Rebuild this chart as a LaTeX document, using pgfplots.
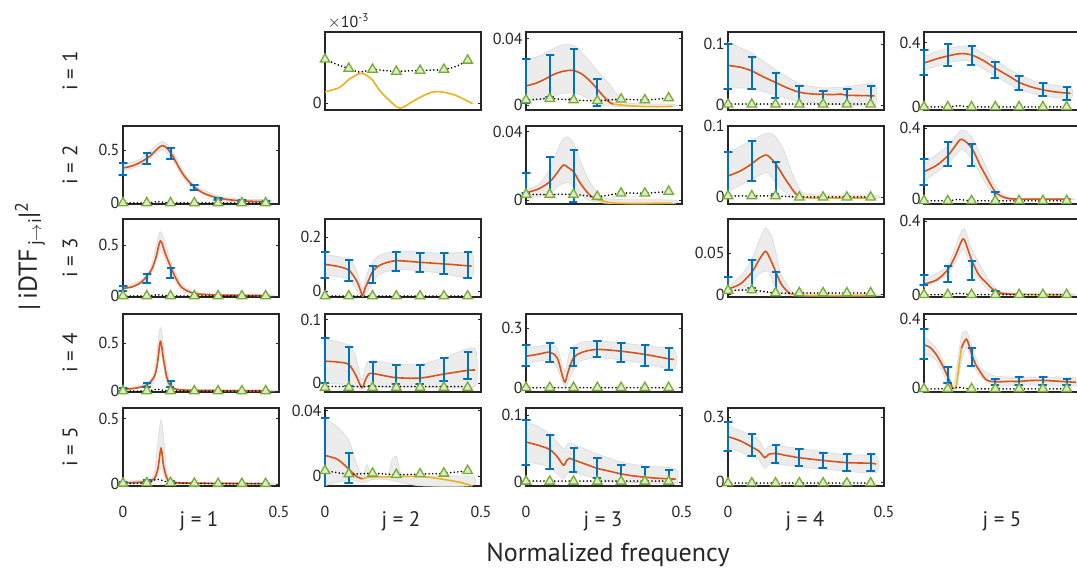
\documentclass[border=0pt]{standalone}
\usepackage{fontspec}
\setmainfont{PT Sans}
\usepackage{pgfplots}
\pgfplotsset{compat=1.18}
\definecolor{morange}{RGB}{217,83,25}
\definecolor{myellow}{RGB}{237,177,32}
\definecolor{mblue}{RGB}{0,114,189}
\definecolor{mgreen}{RGB}{119,172,48}
\definecolor{bandfill}{RGB}{236,236,236}
\definecolor{bandedge}{RGB}{220,220,220}
\definecolor{axcol}{RGB}{38,38,38}
\pgfplotsset{
 panel/.style={anchor=south west, scale only axis, width=156pt, height=78pt,
   xmin=0, xmax=0.5, xtick={0,0.5}, xticklabels={},
   axis line style={line width=1.2pt, axcol},
   tick style={axcol, line width=0.8pt}, major tick length=3pt, tick align=inside,
   ticklabel style={font=\fontsize{16}{18}\selectfont, text=axcol},
   scaled y ticks=false, clip=false},
 bottomrow/.style={xticklabels={\mbox{0},\mbox{0.5}}, xticklabel style={yshift=-17pt}},
 org/.style={draw=morange, line width=1.6pt, smooth, tension=0.5, mark=none},
 yel/.style={draw=myellow, line width=1.6pt, smooth, tension=0.5, mark=none},
 band/.style={fill=bandfill, draw=bandedge, line width=0.7pt, smooth, tension=0.4, mark=none},
 eb/.style={draw=mblue, line width=2pt, sharp plot, mark=none, line join=round},
 tri/.style={only marks, mark=triangle*, mark size=5.5pt,
   mark options={draw=mgreen, fill=mgreen!25!white, line width=1.3pt}},
 dots/.style={draw=black, line width=1.8pt, dash pattern=on 0pt off 3.6pt, line cap=round, smooth, tension=0.5, mark=none},
}
\begin{document}
\begin{tikzpicture}[x=1pt,y=1pt]
% ================= ROW 1 =================
% (1,2)
\begin{axis}[panel, at={(325pt,463pt)}, ymin=-0.175, ymax=1.75, ytick={0}, yticklabels={\mbox{0}}]
\addplot[yel] coordinates {(0,0.275)(0.046,0.38)(0.079,0.59)(0.117,0.73)(0.15,0.58)(0.176,0.3)(0.208,0.05)(0.241,-0.13)(0.284,0.05)(0.327,0.22)(0.36,0.28)(0.414,0.2)(0.473,-0.02)};
\addplot[tri] coordinates {(0,1.075)(0.0762,0.85)(0.1524,0.825)(0.2286,0.775)(0.3048,0.8)(0.381,0.825)(0.4572,1.05)};
\addplot[dots] coordinates {(0,1.075)(0.038,0.95)(0.0762,0.85)(0.11,0.76)(0.1524,0.825)(0.19,0.8)(0.2286,0.775)(0.266,0.79)(0.3048,0.8)(0.343,0.81)(0.381,0.825)(0.42,0.9)(0.4572,1.05)};
\end{axis}
% (1,3)
\begin{axis}[panel, at={(526pt,463pt)}, ymin=-0.003, ymax=0.0439, ytick={0,0.04}, yticklabels={\mbox{0},\mbox{0.04}}]
\addplot[band] coordinates {(0,0.027)(0.05,0.03)(0.1,0.035)(0.13,0.0365)(0.16,0.035)(0.2,0.027)(0.24,0.018)(0.27,0.012)(0.3,0.004)(0.33,0.001)(0.47,0.0005)(0.47,-0.001)(0.3,-0.001)(0.27,-0.0005)(0.24,0.0)(0.2,0.004)(0.16,0.007)(0.12,0.007)(0.08,0.005)(0.04,0.003)(0,0.002)};
\addplot[yel] coordinates {(0.28,0.0005)(0.32,-0.0003)(0.36,-0.0008)(0.4,-0.001)(0.44,-0.001)(0.47,-0.0008)};
\addplot[org] coordinates {(0,0.0115)(0.03,0.013)(0.06,0.0155)(0.09,0.0185)(0.12,0.0203)(0.15,0.0208)(0.18,0.0185)(0.21,0.0135)(0.24,0.007)(0.265,0.002)(0.28,0.0005)};
\addplot[eb] coordinates {(-0.0125,0.0276)(0.0125,0.0276)(0,0.0276)(0,0.001)(-0.0125,0.001)(0.0125,0.001)};
\addplot[eb] coordinates {(0.0637,0.0298)(0.0887,0.0298)(0.0762,0.0298)(0.0762,0.005)(0.0637,0.005)(0.0887,0.005)};
\addplot[eb] coordinates {(0.1399,0.0337)(0.1649,0.0337)(0.1524,0.0337)(0.1524,0.0035)(0.1399,0.0035)(0.1649,0.0035)};
\addplot[eb] coordinates {(0.2161,0.0156)(0.2411,0.0156)(0.2286,0.0156)(0.2286,-0.0004)(0.2161,-0.0004)(0.2411,-0.0004)};
\addplot[tri] coordinates {(0,0.003)(0.0762,0.0038)(0.1524,0.003)(0.2286,0.0025)(0.3048,0.0035)(0.381,0.003)(0.4572,0.0042)};
\addplot[dots] coordinates {(0,0.003)(0.0762,0.0038)(0.1524,0.003)(0.2286,0.0025)(0.3048,0.0035)(0.381,0.003)(0.4572,0.0042)};
\end{axis}
% (1,4)
\begin{axis}[panel, at={(728pt,463pt)}, ymin=-0.0083, ymax=0.12, ytick={0,0.1}, yticklabels={\mbox{0},\mbox{0.1}}]
\addplot[band] coordinates {(0,0.103)(0.0762,0.085)(0.1524,0.058)(0.2286,0.035)(0.3048,0.028)(0.381,0.03)(0.47,0.034)(0.47,0.0)(0.381,0.0)(0.3048,0.002)(0.2286,0.006)(0.1524,0.016)(0.0762,0.027)(0,0.028)};
\addplot[org] coordinates {(0,0.065)(0.04,0.062)(0.0762,0.056)(0.11,0.047)(0.1524,0.037)(0.19,0.028)(0.2286,0.021)(0.27,0.018)(0.3048,0.0175)(0.34,0.017)(0.36,0.018)(0.381,0.016)(0.42,0.0155)(0.47,0.015)};
\addplot[eb] coordinates {(-0.0125,0.1001)(0.0125,0.1001)(0,0.1001)(0,0.0255)(-0.0125,0.0255)(0.0125,0.0255)};
\addplot[eb] coordinates {(0.0637,0.0791)(0.0887,0.0791)(0.0762,0.0791)(0.0762,0.0255)(0.0637,0.0255)(0.0887,0.0255)};
\addplot[eb] coordinates {(0.1399,0.052)(0.1649,0.052)(0.1524,0.052)(0.1524,0.011)(0.1399,0.011)(0.1649,0.011)};
\addplot[eb] coordinates {(0.2161,0.031)(0.2411,0.031)(0.2286,0.031)(0.2286,-0.002)(0.2161,-0.002)(0.2411,-0.002)};
\addplot[eb] coordinates {(0.2923,0.023)(0.3173,0.023)(0.3048,0.023)(0.3048,0)(0.2923,0)(0.3173,0)};
\addplot[eb] coordinates {(0.3685,0.027)(0.3935,0.027)(0.381,0.027)(0.381,-0.002)(0.3685,-0.002)(0.3935,-0.002)};
\addplot[eb] coordinates {(0.4447,0.031)(0.4697,0.031)(0.4572,0.031)(0.4572,-0.002)(0.4447,-0.002)(0.4697,-0.002)};
\addplot[tri] coordinates {(0,0.001)(0.0762,0.001)(0.1524,0.001)(0.2286,0.001)(0.3048,0.001)(0.381,0.001)(0.4572,0.001)};
\addplot[dots] coordinates {(0,0.0015)(0.0762,0.0015)(0.1524,0.0015)(0.2286,0.0015)(0.3048,0.0015)(0.381,0.0015)(0.4572,0.0015)};
\end{axis}
% (1,5)
\begin{axis}[panel, at={(924pt,463pt)}, ymin=-0.019, ymax=0.468, ytick={0,0.4}, yticklabels={\mbox{0},\mbox{0.4}}]
\addplot[band] coordinates {(0,0.32)(0.0762,0.365)(0.125,0.38)(0.1524,0.375)(0.2286,0.29)(0.3048,0.2)(0.381,0.145)(0.47,0.12)(0.47,0.055)(0.381,0.07)(0.3048,0.11)(0.2286,0.195)(0.1524,0.28)(0.125,0.29)(0.0762,0.275)(0,0.23)};
\addplot[org] coordinates {(0,0.274)(0.04,0.3)(0.0762,0.318)(0.11,0.332)(0.125,0.333)(0.1524,0.325)(0.19,0.29)(0.2286,0.242)(0.27,0.195)(0.3048,0.154)(0.34,0.127)(0.381,0.107)(0.42,0.094)(0.4572,0.087)(0.47,0.085)};
\addplot[eb] coordinates {(-0.0125,0.358)(0.0125,0.358)(0,0.358)(0,0.2)(-0.0125,0.2)(0.0125,0.2)};
\addplot[eb] coordinates {(0.0637,0.396)(0.0887,0.396)(0.0762,0.396)(0.0762,0.255)(0.0637,0.255)(0.0887,0.255)};
\addplot[eb] coordinates {(0.1399,0.38)(0.1649,0.38)(0.1524,0.38)(0.1524,0.26)(0.1399,0.26)(0.1649,0.26)};
\addplot[eb] coordinates {(0.2161,0.278)(0.2411,0.278)(0.2286,0.278)(0.2286,0.181)(0.2161,0.181)(0.2411,0.181)};
\addplot[eb] coordinates {(0.2923,0.196)(0.3173,0.196)(0.3048,0.196)(0.3048,0.107)(0.2923,0.107)(0.3173,0.107)};
\addplot[eb] coordinates {(0.3685,0.147)(0.3935,0.147)(0.381,0.147)(0.381,0.068)(0.3685,0.068)(0.3935,0.068)};
\addplot[eb] coordinates {(0.4447,0.122)(0.4697,0.122)(0.4572,0.122)(0.4572,0.046)(0.4447,0.046)(0.4697,0.046)};
\addplot[tri] coordinates {(0,0)(0.0762,0)(0.1524,0)(0.2286,0)(0.3048,0)(0.381,0)(0.4572,0)};
\addplot[dots] coordinates {(0,0)(0.08,0.001)(0.11,0.008)(0.14,0.002)(0.2,0)(0.4572,0)};
\end{axis}
% ================= ROW 2 =================
% (2,1)
\begin{axis}[panel, at={(123pt,369pt)}, ymin=-0.01, ymax=0.726, ytick={0,0.5}, yticklabels={\mbox{0},\mbox{0.5}}]
\addplot[band] coordinates {(0,0.36)(0.06,0.42)(0.125,0.58)(0.16,0.48)(0.2,0.27)(0.229,0.17)(0.3,0.07)(0.38,0.035)(0.47,0.03)(0.47,0.005)(0.38,0.008)(0.3,0.03)(0.229,0.13)(0.2,0.21)(0.16,0.4)(0.125,0.5)(0.06,0.36)(0,0.3)};
\addplot[org] coordinates {(0,0.33)(0.03,0.35)(0.06,0.39)(0.09,0.45)(0.11,0.51)(0.125,0.54)(0.14,0.52)(0.16,0.44)(0.18,0.33)(0.2,0.24)(0.229,0.15)(0.26,0.09)(0.3,0.05)(0.34,0.03)(0.38,0.02)(0.42,0.015)(0.47,0.015)};
\addplot[eb] coordinates {(-0.0125,0.38)(0.0125,0.38)(0,0.38)(0,0.26)(-0.0125,0.26)(0.0125,0.26)};
\addplot[eb] coordinates {(0.0637,0.47)(0.0887,0.47)(0.0762,0.47)(0.0762,0.37)(0.0637,0.37)(0.0887,0.37)};
\addplot[eb] coordinates {(0.1399,0.52)(0.1649,0.52)(0.1524,0.52)(0.1524,0.41)(0.1399,0.41)(0.1649,0.41)};
\addplot[eb] coordinates {(0.2161,0.17)(0.2411,0.17)(0.2286,0.17)(0.2286,0.12)(0.2161,0.12)(0.2411,0.12)};
\addplot[eb] coordinates {(0.2923,0.05)(0.3173,0.05)(0.3048,0.05)(0.3048,0.03)(0.2923,0.03)(0.3173,0.03)};
\addplot[eb] coordinates {(0.3685,0.026)(0.3935,0.026)(0.381,0.026)(0.381,0.014)(0.3685,0.014)(0.3935,0.014)};
\addplot[eb] coordinates {(0.4447,0.02)(0.4697,0.02)(0.4572,0.02)(0.4572,0.01)(0.4447,0.01)(0.4697,0.01)};
\addplot[tri] coordinates {(0,0)(0.0762,0)(0.1524,0)(0.2286,0)(0.3048,0)(0.381,0)(0.4572,0)};
\addplot[dots] coordinates {(0,0)(0.08,0.001)(0.11,0.012)(0.14,0.002)(0.2,0)(0.4572,0)};
\end{axis}
% (2,3)
\begin{axis}[panel, at={(526pt,369pt)}, ymin=-0.0023, ymax=0.0433, ytick={0,0.04}, yticklabels={\mbox{0},\mbox{0.04}}]
\addplot[band] coordinates {(0,0.006)(0.04,0.009)(0.0762,0.018)(0.11,0.033)(0.13,0.037)(0.15,0.034)(0.17,0.025)(0.2,0.012)(0.23,0.004)(0.27,0.0005)(0.47,0.0)(0.47,-0.002)(0.27,-0.002)(0.23,-0.001)(0.2,0.0)(0.17,0.004)(0.14,0.01)(0.11,0.009)(0.0762,0.004)(0.04,0.002)(0,0.002)};
\addplot[yel] coordinates {(0.23,0.0003)(0.27,-0.0015)(0.32,-0.002)(0.38,-0.002)(0.43,-0.0018)(0.47,-0.0018)};
\addplot[org] coordinates {(0,0.0043)(0.04,0.0065)(0.0762,0.0107)(0.1,0.016)(0.12,0.0205)(0.135,0.019)(0.1524,0.0166)(0.17,0.011)(0.19,0.0059)(0.21,0.002)(0.23,0.0003)};
\addplot[eb] coordinates {(-0.0125,0.0156)(0.0125,0.0156)(0,0.0156)(0,0.0039)(-0.0125,0.0039)(0.0125,0.0039)};
\addplot[eb] coordinates {(0.0637,0.025)(0.0887,0.025)(0.0762,0.025)(0.0762,0.003)(0.0637,0.003)(0.0887,0.003)};
\addplot[eb] coordinates {(0.1399,0.029)(0.1649,0.029)(0.1524,0.029)(0.1524,-0.001)(0.1399,-0.001)(0.1649,-0.001)};
\addplot[tri] coordinates {(0,0.0033)(0.0762,0.0033)(0.1524,0.0033)(0.2286,0.002)(0.3048,0.004)(0.381,0.004)(0.4572,0.005)};
\addplot[dots] coordinates {(0,0.0033)(0.0762,0.0033)(0.1524,0.0033)(0.2286,0.002)(0.3048,0.004)(0.381,0.004)(0.4572,0.005)};
\end{axis}
% (2,4)
\begin{axis}[panel, at={(728pt,369pt)}, ymin=-0.0094, ymax=0.1, ytick={0,0.1}, yticklabels={\mbox{0},\mbox{0.1}}]
\addplot[band] coordinates {(0,0.062)(0.0762,0.08)(0.125,0.09)(0.1524,0.085)(0.18,0.065)(0.2,0.04)(0.229,0.012)(0.26,0.004)(0.47,0.003)(0.47,-0.002)(0.26,-0.002)(0.229,-0.001)(0.2,0.0)(0.18,0.008)(0.1524,0.02)(0.125,0.035)(0.0762,0.025)(0,0.008)};
\addplot[yel] coordinates {(0.229,0.001)(0.27,-0.001)(0.35,-0.001)(0.42,-0.001)(0.47,-0.001)};
\addplot[org] coordinates {(0,0.0299)(0.04,0.037)(0.0762,0.047)(0.1,0.055)(0.125,0.059)(0.1524,0.047)(0.18,0.028)(0.2,0.015)(0.215,0.006)(0.229,0.001)};
\addplot[eb] coordinates {(-0.0125,0.063)(0.0125,0.063)(0,0.063)(0,0)(-0.0125,0)(0.0125,0)};
\addplot[eb] coordinates {(0.0637,0.079)(0.0887,0.079)(0.0762,0.079)(0.0762,0.023)(0.0637,0.023)(0.0887,0.023)};
\addplot[eb] coordinates {(0.1399,0.049)(0.1649,0.049)(0.1524,0.049)(0.1524,0.005)(0.1399,0.005)(0.1649,0.005)};
\addplot[tri] coordinates {(0,0.0019)(0.0762,0.0019)(0.1524,0.0019)(0.2286,0)(0.3048,0)(0.381,0)(0.4572,0)};
\addplot[dots] coordinates {(0,0.0019)(0.0762,0.0019)(0.1524,0.0019)(0.2286,0.0005)(0.3048,0.0005)(0.381,0.0005)(0.4572,0.0005)};
\end{axis}
% (2,5)
\begin{axis}[panel, at={(924pt,369pt)}, ymin=-0.028, ymax=0.413, ytick={0,0.4}, yticklabels={\mbox{0},\mbox{0.4}}]
\addplot[band] coordinates {(0,0.2)(0.0762,0.3)(0.12,0.39)(0.1524,0.35)(0.2,0.18)(0.2286,0.07)(0.26,0.02)(0.3,0.005)(0.47,0.003)(0.47,-0.003)(0.3,-0.003)(0.26,0.0)(0.2286,0.015)(0.2,0.08)(0.1524,0.23)(0.12,0.28)(0.0762,0.2)(0,0.1)};
\addplot[org] coordinates {(0,0.155)(0.04,0.19)(0.0762,0.245)(0.1,0.3)(0.12,0.338)(0.1524,0.29)(0.18,0.19)(0.2,0.126)(0.2286,0.04)(0.26,0.008)(0.3,0.0)(0.47,0.0)};
\addplot[eb] coordinates {(-0.0125,0.225)(0.0125,0.225)(0,0.225)(0,0.08)(-0.0125,0.08)(0.0125,0.08)};
\addplot[eb] coordinates {(0.0637,0.32)(0.0887,0.32)(0.0762,0.32)(0.0762,0.187)(0.0637,0.187)(0.0887,0.187)};
\addplot[eb] coordinates {(0.1399,0.31)(0.1649,0.31)(0.1524,0.31)(0.1524,0.187)(0.1399,0.187)(0.1649,0.187)};
\addplot[eb] coordinates {(0.2161,0.04)(0.2411,0.04)(0.2286,0.04)(0.2286,-0.015)(0.2161,-0.015)(0.2411,-0.015)};
\addplot[tri] coordinates {(0,-0.01)(0.0762,-0.01)(0.1524,-0.01)(0.2286,-0.01)(0.3048,-0.01)(0.381,-0.01)(0.4572,-0.01)};
\addplot[dots] coordinates {(0,-0.01)(0.08,-0.009)(0.11,-0.002)(0.14,-0.008)(0.2,-0.01)(0.4572,-0.01)};
\end{axis}
% ================= ROW 3 =================
% (3,1)
\begin{axis}[panel, at={(123pt,276pt)}, ymin=-0.01, ymax=0.755, ytick={0,0.5}, yticklabels={\mbox{0},\mbox{0.5}}]
\addplot[band] coordinates {(0,0.09)(0.06,0.16)(0.09,0.29)(0.12,0.63)(0.1524,0.34)(0.19,0.11)(0.2286,0.04)(0.3,0.015)(0.47,0.01)(0.47,0.0)(0.3,0.005)(0.2286,0.012)(0.19,0.05)(0.1524,0.23)(0.12,0.45)(0.09,0.21)(0.06,0.12)(0,0.06)};
\addplot[org] coordinates {(0,0.075)(0.03,0.09)(0.06,0.14)(0.09,0.25)(0.105,0.37)(0.12,0.54)(0.135,0.42)(0.1524,0.29)(0.17,0.17)(0.19,0.08)(0.2286,0.025)(0.3,0.01)(0.47,0.005)};
\addplot[eb] coordinates {(-0.0125,0.098)(0.0125,0.098)(0,0.098)(0,0.052)(-0.0125,0.052)(0.0125,0.052)};
\addplot[eb] coordinates {(0.0637,0.216)(0.0887,0.216)(0.0762,0.216)(0.0762,0.13)(0.0637,0.13)(0.0887,0.13)};
\addplot[eb] coordinates {(0.1399,0.277)(0.1649,0.277)(0.1524,0.277)(0.1524,0.173)(0.1399,0.173)(0.1649,0.173)};
\addplot[tri] coordinates {(0,0)(0.0762,0)(0.1524,0)(0.2286,0)(0.3048,0)(0.381,0)(0.4572,0)};
\addplot[dots] coordinates {(0,0)(0.08,0.001)(0.11,0.012)(0.14,0.002)(0.2,0)(0.4572,0)};
\end{axis}
% (3,2)
\begin{axis}[panel, at={(325pt,276pt)}, ymin=-0.022, ymax=0.268, ytick={0,0.2}, yticklabels={\mbox{0},\mbox{0.2}}]
\addplot[band] coordinates {(0,0.135)(0.0762,0.12)(0.1,0.08)(0.12,0.01)(0.14,0.08)(0.17,0.13)(0.2286,0.148)(0.3048,0.145)(0.381,0.14)(0.47,0.14)(0.47,0.05)(0.381,0.065)(0.3048,0.075)(0.2286,0.08)(0.17,0.06)(0.14,0.005)(0.12,-0.02)(0.1,0.005)(0.0762,0.045)(0,0.06)};
\addplot[org] coordinates {(0,0.099)(0.04,0.092)(0.0762,0.078)(0.1,0.041)(0.11,0.015)(0.12,-0.015)(0.13,0.015)(0.14,0.041)(0.1524,0.072)(0.17,0.092)(0.19,0.103)(0.2286,0.113)(0.3048,0.107)(0.381,0.101)(0.4572,0.094)(0.47,0.093)};
\addplot[eb] coordinates {(-0.0125,0.146)(0.0125,0.146)(0,0.146)(0,0.047)(-0.0125,0.047)(0.0125,0.047)};
\addplot[eb] coordinates {(0.0637,0.115)(0.0887,0.115)(0.0762,0.115)(0.0762,0.038)(0.0637,0.038)(0.0887,0.038)};
\addplot[eb] coordinates {(0.1399,0.093)(0.1649,0.093)(0.1524,0.093)(0.1524,0.029)(0.1399,0.029)(0.1649,0.029)};
\addplot[eb] coordinates {(0.2161,0.144)(0.2411,0.144)(0.2286,0.144)(0.2286,0.076)(0.2161,0.076)(0.2411,0.076)};
\addplot[eb] coordinates {(0.2923,0.142)(0.3173,0.142)(0.3048,0.142)(0.3048,0.071)(0.2923,0.071)(0.3173,0.071)};
\addplot[eb] coordinates {(0.3685,0.142)(0.3935,0.142)(0.381,0.142)(0.381,0.064)(0.3685,0.064)(0.3935,0.064)};
\addplot[eb] coordinates {(0.4447,0.144)(0.4697,0.144)(0.4572,0.144)(0.4572,0.05)(0.4447,0.05)(0.4697,0.05)};
\addplot[tri] coordinates {(0,-0.0186)(0.0762,-0.0186)(0.1524,-0.0186)(0.2286,-0.0186)(0.3048,-0.0186)(0.381,-0.0186)(0.4572,-0.0186)};
\addplot[dots] coordinates {(0,-0.0186)(0.2286,-0.0186)(0.4572,-0.0186)};
\end{axis}
% (3,4)
\begin{axis}[panel, at={(728pt,276pt)}, ymin=-0.0028, ymax=0.0908, ytick={0,0.05}, yticklabels={\mbox{0},\mbox{0.05}}]
\addplot[band] coordinates {(0,0.01)(0.04,0.022)(0.0762,0.042)(0.1,0.065)(0.12,0.08)(0.14,0.07)(0.1524,0.052)(0.17,0.025)(0.2,0.006)(0.23,0.001)(0.47,0.0)(0.47,-0.0015)(0.23,-0.0015)(0.2,-0.001)(0.17,0.002)(0.1524,0.008)(0.13,0.028)(0.1,0.025)(0.0762,0.015)(0.04,0.006)(0,0.003)};
\addplot[yel] coordinates {(0.2,0.001)(0.25,-0.001)(0.3,-0.001)(0.35,-0.0012)(0.4,-0.001)(0.47,-0.001)};
\addplot[org] coordinates {(0,0.0068)(0.04,0.013)(0.0762,0.0268)(0.1,0.042)(0.12,0.052)(0.135,0.043)(0.1524,0.028)(0.17,0.013)(0.19,0.004)(0.2,0.001)};
\addplot[eb] coordinates {(-0.0125,0.021)(0.0125,0.021)(0,0.021)(0,0.002)(-0.0125,0.002)(0.0125,0.002)};
\addplot[eb] coordinates {(0.0637,0.042)(0.0887,0.042)(0.0762,0.042)(0.0762,0.008)(0.0637,0.008)(0.0887,0.008)};
\addplot[eb] coordinates {(0.1399,0.0268)(0.1649,0.0268)(0.1524,0.0268)(0.1524,0.0012)(0.1399,0.0012)(0.1649,0.0012)};
\addplot[tri] coordinates {(0,0.005)(0.0762,0.0055)(0.1524,0.002)(0.2286,0.002)(0.3048,0.002)(0.381,0.002)(0.4572,0.002)};
\addplot[dots] coordinates {(0,0.005)(0.0762,0.0055)(0.1524,0.002)(0.2286,0.002)(0.3048,0.002)(0.381,0.002)(0.4572,0.002)};
\end{axis}
% (3,5)
\begin{axis}[panel, at={(924pt,276pt)}, ymin=-0.0127, ymax=0.413, ytick={0,0.4}, yticklabels={\mbox{0},\mbox{0.4}}]
\addplot[band] coordinates {(0,0.08)(0.0762,0.16)(0.125,0.36)(0.1524,0.25)(0.2,0.1)(0.2286,0.035)(0.27,0.01)(0.47,0.005)(0.47,-0.005)(0.27,0.0)(0.2286,0.005)(0.2,0.035)(0.1524,0.14)(0.125,0.25)(0.0762,0.11)(0,0.04)};
\addplot[yel] coordinates {(0.3,0.002)(0.38,0.0)(0.47,-0.002)};
\addplot[org] coordinates {(0,0.058)(0.04,0.08)(0.0762,0.136)(0.1,0.21)(0.125,0.304)(0.14,0.25)(0.1524,0.19)(0.175,0.11)(0.2,0.064)(0.2286,0.018)(0.26,0.005)(0.3,0.002)};
\addplot[eb] coordinates {(-0.0125,0.109)(0.0125,0.109)(0,0.109)(0,0.055)(-0.0125,0.055)(0.0125,0.055)};
\addplot[eb] coordinates {(0.0637,0.155)(0.0887,0.155)(0.0762,0.155)(0.0762,0.067)(0.0637,0.067)(0.0887,0.067)};
\addplot[eb] coordinates {(0.1399,0.185)(0.1649,0.185)(0.1524,0.185)(0.1524,0.082)(0.1399,0.082)(0.1649,0.082)};
\addplot[eb] coordinates {(0.2161,0.018)(0.2411,0.018)(0.2286,0.018)(0.2286,-0.0127)(0.2161,-0.0127)(0.2411,-0.0127)};
\addplot[tri] coordinates {(0,0)(0.0762,0)(0.1524,0)(0.2286,0)(0.3048,0)(0.381,0)(0.4572,0)};
\addplot[dots] coordinates {(0,0)(0.08,0.001)(0.11,0.008)(0.14,0.002)(0.2,0)(0.4572,0)};
\end{axis}
% ================= ROW 4 =================
% (4,1)
\begin{axis}[panel, at={(123pt,181pt)}, ymin=-0.01, ymax=0.807, ytick={0,0.5}, yticklabels={\mbox{0},\mbox{0.5}}]
\addplot[band] coordinates {(0,0.03)(0.0762,0.08)(0.1,0.2)(0.12,0.66)(0.14,0.25)(0.1524,0.09)(0.17,0.03)(0.2,0.015)(0.47,0.01)(0.47,0.0)(0.2,0.003)(0.17,0.01)(0.1524,0.03)(0.14,0.08)(0.12,0.42)(0.1,0.1)(0.0762,0.045)(0,0.01)};
\addplot[org] coordinates {(0,0.018)(0.04,0.03)(0.0762,0.063)(0.1,0.15)(0.11,0.28)(0.12,0.52)(0.13,0.33)(0.14,0.15)(0.1524,0.05)(0.17,0.02)(0.2,0.01)(0.3,0.005)(0.47,0.003)};
\addplot[eb] coordinates {(-0.0125,0.035)(0.0125,0.035)(0,0.035)(0,0.005)(-0.0125,0.005)(0.0125,0.005)};
\addplot[eb] coordinates {(0.0637,0.08)(0.0887,0.08)(0.0762,0.08)(0.0762,0.045)(0.0637,0.045)(0.0887,0.045)};
\addplot[eb] coordinates {(0.1399,0.1)(0.1649,0.1)(0.1524,0.1)(0.1524,0.045)(0.1399,0.045)(0.1649,0.045)};
\addplot[tri] coordinates {(0,0)(0.0762,0)(0.1524,0)(0.2286,0)(0.3048,0)(0.381,0)(0.4572,0)};
\addplot[dots] coordinates {(0,0)(0.08,0.001)(0.11,0.02)(0.14,0.002)(0.2,0)(0.4572,0)};
\end{axis}
% (4,2)
\begin{axis}[panel, at={(325pt,181pt)}, ymin=-0.0136, ymax=0.109, ytick={0,0.1}, yticklabels={\mbox{0},\mbox{0.1}}]
\addplot[band] coordinates {(0,0.07)(0.0762,0.06)(0.1,0.04)(0.118,0.005)(0.14,0.035)(0.2286,0.03)(0.3048,0.03)(0.381,0.04)(0.48,0.055)(0.48,-0.005)(0.381,-0.006)(0.3048,-0.007)(0.2286,-0.007)(0.14,-0.005)(0.118,-0.01)(0.1,-0.005)(0.0762,-0.002)(0,0.0)};
\addplot[org] coordinates {(0,0.0348)(0.04,0.0335)(0.0762,0.0297)(0.1,0.0114)(0.118,-0.0067)(0.13,0.006)(0.14,0.0146)(0.1524,0.0156)(0.19,0.012)(0.2286,0.0089)(0.3048,0.0083)(0.381,0.0146)(0.4572,0.0203)(0.48,0.021)};
\addplot[eb] coordinates {(-0.0125,0.0714)(0.0125,0.0714)(0,0.0714)(0,0.001)(-0.0125,0.001)(0.0125,0.001)};
\addplot[eb] coordinates {(0.0637,0.0568)(0.0887,0.0568)(0.0762,0.0568)(0.0762,-0.004)(0.0637,-0.004)(0.0887,-0.004)};
\addplot[eb] coordinates {(0.1399,0.0334)(0.1649,0.0334)(0.1524,0.0334)(0.1524,-0.004)(0.1399,-0.004)(0.1649,-0.004)};
\addplot[eb] coordinates {(0.2161,0.0285)(0.2411,0.0285)(0.2286,0.0285)(0.2286,-0.0005)(0.2161,-0.0005)(0.2411,-0.0005)};
\addplot[eb] coordinates {(0.2923,0.0285)(0.3173,0.0285)(0.3048,0.0285)(0.3048,-0.0005)(0.2923,-0.0005)(0.3173,-0.0005)};
\addplot[eb] coordinates {(0.3685,0.0402)(0.3935,0.0402)(0.381,0.0402)(0.381,0.003)(0.3685,0.003)(0.3935,0.003)};
\addplot[eb] coordinates {(0.4447,0.05)(0.4697,0.05)(0.4572,0.05)(0.4572,0.007)(0.4447,0.007)(0.4697,0.007)};
\addplot[tri] coordinates {(0,-0.0067)(0.0762,-0.0067)(0.1524,-0.0067)(0.2286,-0.0067)(0.3048,-0.0067)(0.381,-0.0067)(0.4572,-0.0067)};
\addplot[dots] coordinates {(0,-0.005)(0.2286,-0.005)(0.4572,-0.005)};
\end{axis}
% (4,3)
\begin{axis}[panel, at={(526pt,181pt)}, ymin=-0.0217, ymax=0.37, ytick={0,0.3}, yticklabels={\mbox{0},\mbox{0.3}}]
\addplot[band] coordinates {(0,0.2)(0.0762,0.215)(0.1,0.2)(0.125,0.08)(0.14,0.18)(0.17,0.225)(0.2286,0.235)(0.3048,0.225)(0.381,0.21)(0.475,0.19)(0.475,0.095)(0.381,0.12)(0.3048,0.14)(0.2286,0.15)(0.17,0.13)(0.14,0.05)(0.125,0.0)(0.1,0.1)(0.0762,0.14)(0,0.12)};
\addplot[org] coordinates {(0,0.158)(0.04,0.168)(0.0762,0.178)(0.1,0.15)(0.115,0.07)(0.125,0.028)(0.135,0.08)(0.1524,0.15)(0.18,0.178)(0.2286,0.192)(0.3048,0.183)(0.381,0.167)(0.4572,0.145)(0.475,0.142)};
\addplot[eb] coordinates {(-0.0125,0.212)(0.0125,0.212)(0,0.212)(0,0.108)(-0.0125,0.108)(0.0125,0.108)};
\addplot[eb] coordinates {(0.0637,0.222)(0.0887,0.222)(0.0762,0.222)(0.0762,0.128)(0.0637,0.128)(0.0887,0.128)};
\addplot[eb] coordinates {(0.1399,0.197)(0.1649,0.197)(0.1524,0.197)(0.1524,0.108)(0.1399,0.108)(0.1649,0.108)};
\addplot[eb] coordinates {(0.2161,0.233)(0.2411,0.233)(0.2286,0.233)(0.2286,0.153)(0.2161,0.153)(0.2411,0.153)};
\addplot[eb] coordinates {(0.2923,0.225)(0.3173,0.225)(0.3048,0.225)(0.3048,0.13)(0.2923,0.13)(0.3173,0.13)};
\addplot[eb] coordinates {(0.3685,0.212)(0.3935,0.212)(0.381,0.212)(0.381,0.108)(0.3685,0.108)(0.3935,0.108)};
\addplot[eb] coordinates {(0.4447,0.2)(0.4697,0.2)(0.4572,0.2)(0.4572,0.088)(0.4447,0.088)(0.4697,0.088)};
\addplot[tri] coordinates {(0,0)(0.0762,0)(0.1524,0)(0.2286,0)(0.3048,0)(0.381,0)(0.4572,0)};
\addplot[dots] coordinates {(0,0)(0.2286,0)(0.4572,0)};
\end{axis}
% (4,5)
\begin{axis}[panel, at={(924pt,181pt)}, ymin=-0.021, ymax=0.429, ytick={0,0.4}, yticklabels={\mbox{0},\mbox{0.4}}]
\addplot[band] coordinates {(0,0.3)(0.04,0.23)(0.0762,0.1)(0.095,0.02)(0.12,0.3)(0.136,0.33)(0.1524,0.25)(0.18,0.12)(0.2286,0.07)(0.3048,0.065)(0.381,0.065)(0.487,0.06)(0.487,0.015)(0.381,0.02)(0.3048,0.018)(0.2286,0.015)(0.18,0.07)(0.1524,0.16)(0.136,0.24)(0.12,0.15)(0.1,-0.01)(0.0762,0.03)(0.04,0.16)(0,0.2)};
\addplot[yel] coordinates {(0.09,0.006)(0.1,0.0)(0.105,0.03)(0.112,0.13)(0.12,0.232)};
\addplot[org] coordinates {(0,0.251)(0.02,0.235)(0.04,0.193)(0.06,0.13)(0.0762,0.067)(0.085,0.03)(0.09,0.006)};
\addplot[org] coordinates {(0.12,0.232)(0.136,0.284)(0.1524,0.2)(0.165,0.14)(0.18,0.096)(0.2,0.049)(0.2286,0.038)(0.27,0.04)(0.3048,0.04)(0.34,0.045)(0.381,0.046)(0.42,0.042)(0.4572,0.038)(0.487,0.035)};
\addplot[eb] coordinates {(-0.0125,0.342)(0.0125,0.342)(0,0.342)(0,0.168)(-0.0125,0.168)(0.0125,0.168)};
\addplot[eb] coordinates {(0.0637,0.125)(0.0887,0.125)(0.0762,0.125)(0.0762,0.029)(0.0637,0.029)(0.0887,0.029)};
\addplot[eb] coordinates {(0.1399,0.235)(0.1649,0.235)(0.1524,0.235)(0.1524,0.129)(0.1399,0.129)(0.1649,0.129)};
\addplot[eb] coordinates {(0.2161,0.054)(0.2411,0.054)(0.2286,0.054)(0.2286,0.019)(0.2161,0.019)(0.2411,0.019)};
\addplot[eb] coordinates {(0.2923,0.063)(0.3173,0.063)(0.3048,0.063)(0.3048,0.021)(0.2923,0.021)(0.3173,0.021)};
\addplot[eb] coordinates {(0.3685,0.065)(0.3935,0.065)(0.381,0.065)(0.381,0.021)(0.3685,0.021)(0.3935,0.021)};
\addplot[eb] coordinates {(0.4447,0.054)(0.4697,0.054)(0.4572,0.054)(0.4572,0.019)(0.4447,0.019)(0.4697,0.019)};
\addplot[tri] coordinates {(0,-0.003)(0.0762,-0.003)(0.1524,-0.003)(0.2286,-0.003)(0.3048,-0.003)(0.381,-0.003)(0.4572,-0.003)};
\addplot[dots] coordinates {(0,-0.003)(0.08,-0.002)(0.11,0.006)(0.14,-0.001)(0.2,-0.003)(0.4572,-0.003)};
\end{axis}
% ================= ROW 5 =================
% (5,1)
\begin{axis}[panel, bottomrow, at={(123pt,87pt)}, ymin=-0.015, ymax=0.582, ytick={0,0.5}, yticklabels={\mbox{0},\mbox{0.5}}]
\addplot[band] coordinates {(0,0.02)(0.0762,0.035)(0.1,0.08)(0.122,0.49)(0.14,0.1)(0.1524,0.03)(0.2,0.012)(0.47,0.008)(0.47,0.0)(0.2,0.002)(0.1524,0.005)(0.14,0.02)(0.122,0.12)(0.1,0.02)(0.0762,0.008)(0,0.003)};
\addplot[org] coordinates {(0,0.01)(0.04,0.012)(0.0762,0.02)(0.1,0.04)(0.112,0.12)(0.122,0.273)(0.13,0.14)(0.14,0.05)(0.1524,0.015)(0.2,0.008)(0.3,0.005)(0.47,0.003)};
\addplot[eb] coordinates {(-0.0125,0.018)(0.0125,0.018)(0,0.018)(0,0.002)(-0.0125,0.002)(0.0125,0.002)};
\addplot[eb] coordinates {(0.0637,0.032)(0.0887,0.032)(0.0762,0.032)(0.0762,0.008)(0.0637,0.008)(0.0887,0.008)};
\addplot[eb] coordinates {(0.1399,0.027)(0.1649,0.027)(0.1524,0.027)(0.1524,0.003)(0.1399,0.003)(0.1649,0.003)};
\addplot[tri] coordinates {(0,0.005)(0.0762,0.008)(0.1524,0.01)(0.2286,0.005)(0.3048,0.003)(0.381,0.003)(0.4572,0.003)};
\addplot[dots] coordinates {(0,0.005)(0.0762,0.008)(0.11,0.036)(0.1524,0.01)(0.2286,0.005)(0.3048,0.003)(0.381,0.003)(0.4572,0.003)};
\end{axis}
% (5,2)
\begin{axis}[panel, bottomrow, at={(325pt,87pt)}, ymin=-0.0059, ymax=0.0416, ytick={0,0.04}, yticklabels={\mbox{0},\mbox{0.04}}]
\addplot[band] coordinates {(0,0.035)(0.04,0.03)(0.0762,0.022)(0.1,0.008)(0.12,0.0005)(0.135,0.007)(0.15,0.0)(0.2,0.0)(0.215,0.01)(0.23,0.012)(0.245,0.001)(0.3,0.0)(0.47,0.0)(0.47,-0.0057)(0.3,-0.0057)(0.2,-0.002)(0.15,-0.002)(0.12,-0.004)(0.1,-0.003)(0.0762,-0.002)(0,-0.0057)};
\addplot[yel] coordinates {(0.12,-0.0016)(0.14,-0.0005)(0.2,-0.0003)(0.3,0.0)(0.35,-0.001)(0.4,-0.0025)(0.44,-0.004)(0.471,-0.0058)};
\addplot[org] coordinates {(0,0.0127)(0.04,0.0103)(0.0762,0.0044)(0.1,0.0)(0.12,-0.0016)};
\addplot[eb] coordinates {(-0.0125,0.0356)(0.0125,0.0356)(0,0.0356)(0,-0.0059)};
\addplot[eb] coordinates {(0.0637,0.0144)(0.0887,0.0144)(0.0762,0.0144)(0.0762,-0.004)(0.0637,-0.004)(0.0887,-0.004)};
\addplot[tri] coordinates {(0,0.0034)(0.0762,0.0014)(0.1524,0.0018)(0.2286,0.001)(0.3048,0.0014)(0.381,0.0018)(0.4572,0.0034)};
\addplot[dots] coordinates {(0,0.0034)(0.0762,0.0014)(0.1524,0.0018)(0.2286,0.001)(0.3048,0.0014)(0.381,0.0018)(0.4572,0.0034)};
\end{axis}
% (5,3)
\begin{axis}[panel, bottomrow, at={(526pt,87pt)}, ymin=-0.0059, ymax=0.111, ytick={0,0.1}, yticklabels={\mbox{0},\mbox{0.1}}]
\addplot[band] coordinates {(0,0.09)(0.04,0.083)(0.0762,0.072)(0.12,0.05)(0.14,0.058)(0.2286,0.042)(0.3048,0.03)(0.381,0.024)(0.48,0.02)(0.48,-0.002)(0.381,-0.001)(0.3048,0.0)(0.2286,0.005)(0.14,0.015)(0.12,0.005)(0.0762,0.022)(0.04,0.027)(0,0.03)};
\addplot[org] coordinates {(0,0.06)(0.04,0.055)(0.0762,0.0488)(0.1,0.038)(0.12,0.0254)(0.13,0.032)(0.14,0.0356)(0.1524,0.0332)(0.19,0.027)(0.2286,0.0205)(0.27,0.016)(0.3048,0.0122)(0.34,0.0095)(0.381,0.0073)(0.42,0.0058)(0.4572,0.0049)(0.48,0.0044)};
\addplot[eb] coordinates {(-0.0125,0.0927)(0.0125,0.0927)(0,0.0927)(0,0.0253)(-0.0125,0.0253)(0.0125,0.0253)};
\addplot[eb] coordinates {(0.0637,0.0707)(0.0887,0.0707)(0.0762,0.0707)(0.0762,0.0195)(0.0637,0.0195)(0.0887,0.0195)};
\addplot[eb] coordinates {(0.1399,0.0512)(0.1649,0.0512)(0.1524,0.0512)(0.1524,0.0146)(0.1399,0.0146)(0.1649,0.0146)};
\addplot[eb] coordinates {(0.2161,0.0367)(0.2411,0.0367)(0.2286,0.0367)(0.2286,0.0059)(0.2161,0.0059)(0.2411,0.0059)};
\addplot[eb] coordinates {(0.2923,0.026)(0.3173,0.026)(0.3048,0.026)(0.3048,0)(0.2923,0)(0.3173,0)};
\addplot[eb] coordinates {(0.3685,0.023)(0.3935,0.023)(0.381,0.023)(0.381,-0.001)(0.3685,-0.001)(0.3935,-0.001)};
\addplot[eb] coordinates {(0.4447,0.0186)(0.4697,0.0186)(0.4572,0.0186)(0.4572,-0.001)(0.4447,-0.001)(0.4697,-0.001)};
\addplot[tri] coordinates {(0,0.001)(0.0762,0.001)(0.1524,0.001)(0.2286,0.001)(0.3048,0.001)(0.381,0.001)(0.4572,0.001)};
\addplot[dots] coordinates {(0,0.0015)(0.2286,0.0015)(0.4572,0.0015)};
\end{axis}
% (5,4)
\begin{axis}[panel, bottomrow, at={(728pt,87pt)}, ymin=-0.018, ymax=0.342, ytick={0,0.3}, yticklabels={\mbox{0},\mbox{0.3}}]
\addplot[band] coordinates {(0,0.26)(0.0762,0.215)(0.1,0.19)(0.118,0.15)(0.14,0.17)(0.2286,0.155)(0.3048,0.14)(0.381,0.125)(0.475,0.12)(0.475,0.045)(0.381,0.05)(0.3048,0.06)(0.2286,0.07)(0.14,0.085)(0.118,0.065)(0.1,0.1)(0.0762,0.12)(0,0.16)};
\addplot[org] coordinates {(0,0.21)(0.04,0.19)(0.0762,0.162)(0.1,0.142)(0.118,0.1125)(0.13,0.128)(0.1524,0.132)(0.19,0.122)(0.2286,0.1125)(0.3048,0.1)(0.381,0.09)(0.4572,0.087)(0.475,0.083)};
\addplot[eb] coordinates {(-0.0125,0.277)(0.0125,0.277)(0,0.277)(0,0.142)(-0.0125,0.142)(0.0125,0.142)};
\addplot[eb] coordinates {(0.0637,0.222)(0.0887,0.222)(0.0762,0.222)(0.0762,0.12)(0.0637,0.12)(0.0887,0.12)};
\addplot[eb] coordinates {(0.1399,0.172)(0.1649,0.172)(0.1524,0.172)(0.1524,0.087)(0.1399,0.087)(0.1649,0.087)};
\addplot[eb] coordinates {(0.2161,0.153)(0.2411,0.153)(0.2286,0.153)(0.2286,0.075)(0.2161,0.075)(0.2411,0.075)};
\addplot[eb] coordinates {(0.2923,0.135)(0.3173,0.135)(0.3048,0.135)(0.3048,0.063)(0.2923,0.063)(0.3173,0.063)};
\addplot[eb] coordinates {(0.3685,0.13)(0.3935,0.13)(0.381,0.13)(0.381,0.053)(0.3685,0.053)(0.3935,0.053)};
\addplot[eb] coordinates {(0.4447,0.13)(0.4697,0.13)(0.4572,0.13)(0.4572,0.053)(0.4447,0.053)(0.4697,0.053)};
\addplot[tri] coordinates {(0,-0.0045)(0.0762,-0.0045)(0.1524,-0.0045)(0.2286,-0.0045)(0.3048,-0.0045)(0.381,-0.0045)(0.4572,-0.0045)};
\addplot[dots] coordinates {(0,-0.0045)(0.2286,-0.0045)(0.4572,-0.0045)};
\end{axis}
% ================= LABELS =================
\begin{scope}[text=axcol]
\node[anchor=base west, font=\fontsize{16}{18}\selectfont] at (324pt,545pt) {$\times$10\textsuperscript{-3}};
\foreach \c/\xc in {1/199,2/401,3/603,4/805,5/1002} {
  \node[font=\fontsize{21}{24}\selectfont] at (\xc pt,52pt) {j = \c};
}
\foreach \r/\yc in {1/502,2/408,3/315,4/220,5/126} {
  \node[rotate=90, font=\fontsize{21}{24}\selectfont] at (70pt,\yc pt) {i = \r};
}
\node[rotate=90, font=\fontsize{26}{30}\selectfont] at (30pt,317pt) {|\,iDTF\textsubscript{\,j$\rightarrow$i}|\textsuperscript{2}};
\node[font=\fontsize{26}{30}\selectfont] at (608pt,18pt) {Normalized frequency};
\end{scope}
\pgfresetboundingbox
\path (0pt,0pt) rectangle (1077pt,573pt);
\end{tikzpicture}
\end{document}
